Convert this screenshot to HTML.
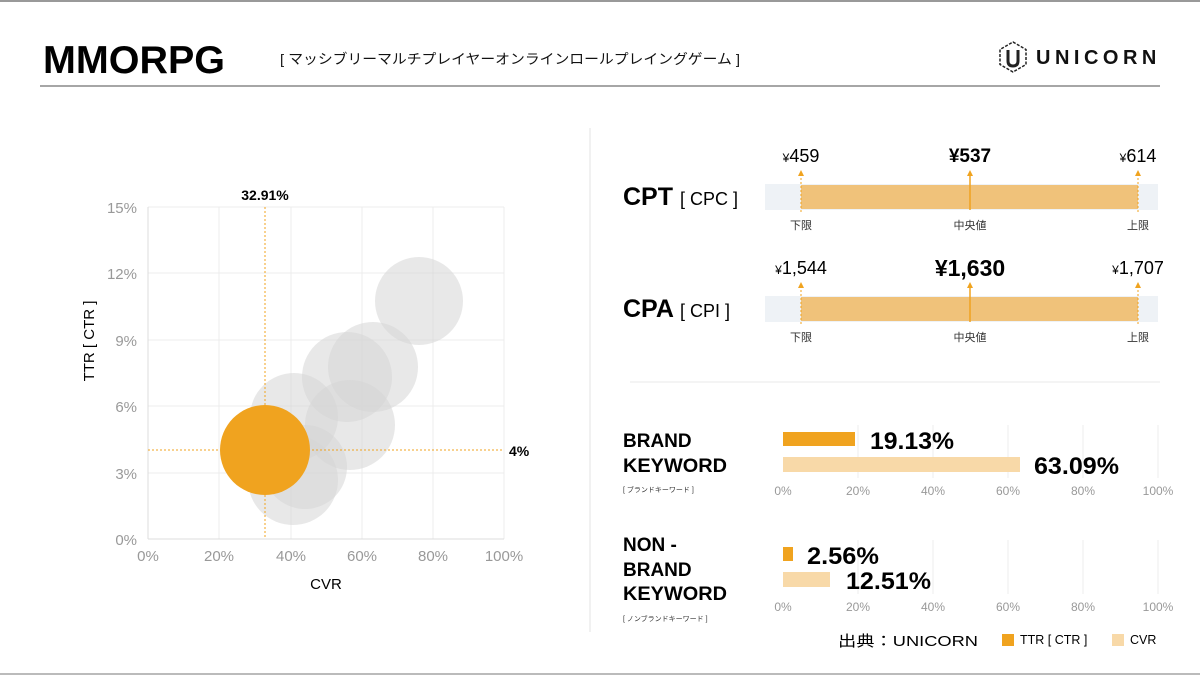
<!DOCTYPE html>
<html><head><meta charset="utf-8"><style>
body{margin:0;width:1200px;height:675px;background:#fff;overflow:hidden;font-family:"Liberation Sans","Noto Sans CJK JP",sans-serif;}
</style></head><body>
<svg width="1200" height="675" xmlns="http://www.w3.org/2000/svg" font-family="Liberation Sans, Noto Sans CJK JP, sans-serif">
<rect x="0" y="0" width="1200" height="2" fill="#999"/>
<rect x="0" y="673" width="1200" height="2" fill="#bbb"/>
<text x="43" y="73" font-size="39" font-weight="bold" fill="#000" textLength="182" lengthAdjust="spacingAndGlyphs">MMORPG</text>
<text x="280" y="64" font-size="14" fill="#111" textLength="460" lengthAdjust="spacingAndGlyphs">[ マッシブリーマルチプレイヤーオンラインロールプレイングゲーム ]</text>
<line x1="40" y1="86" x2="1160" y2="86" stroke="#888" stroke-width="1.5"/>
<g transform="translate(1013,57)" fill="none" stroke="#222" stroke-width="1.5">
<polygon points="0,-15 13,-7.5 13,7.5 0,15 -13,7.5 -13,-7.5" stroke-dasharray="3,1.5"/>
<path d="M-5,-7 V4 Q-5,9 0,9 Q5,9 5,4 V-7" stroke-width="3"/>
</g>
<text x="1036" y="64" font-size="20" font-weight="bold" letter-spacing="4.5" fill="#111">UNICORN</text>
<line x1="590" y1="128" x2="590" y2="632" stroke="#e3e3e3"/>
<line x1="630" y1="382" x2="1160" y2="382" stroke="#e8e8e8"/>
<g stroke="#ececec" stroke-width="1">
<line x1="148" y1="207" x2="504" y2="207"/><line x1="148" y1="273" x2="504" y2="273"/><line x1="148" y1="340" x2="504" y2="340"/><line x1="148" y1="406" x2="504" y2="406"/><line x1="148" y1="473" x2="504" y2="473"/>
<line x1="219" y1="207" x2="219" y2="539"/><line x1="291" y1="207" x2="291" y2="539"/><line x1="362" y1="207" x2="362" y2="539"/><line x1="433" y1="207" x2="433" y2="539"/><line x1="504" y1="207" x2="504" y2="539"/>
</g>
<line x1="148" y1="539" x2="504" y2="539" stroke="#ddd"/><line x1="148" y1="207" x2="148" y2="539" stroke="#ddd"/>
<g fill="#d6d6d6" fill-opacity="0.55">
<circle cx="419" cy="301" r="44"/>
<circle cx="373" cy="367" r="45"/>
<circle cx="347" cy="377" r="45"/>
<circle cx="294" cy="417" r="44"/>
<circle cx="293" cy="480" r="45"/>
<circle cx="305" cy="467" r="42"/>
<circle cx="350" cy="425" r="45"/>
</g>
<circle cx="265" cy="450" r="45" fill="#f0a31f"/>
<line x1="265" y1="207" x2="265" y2="539" stroke="#f0a31f" stroke-dasharray="2,2"/>
<line x1="148" y1="450" x2="504" y2="450" stroke="#f0a31f" stroke-dasharray="2,2"/>
<text x="265" y="200" font-size="14" font-weight="bold" text-anchor="middle">32.91%</text>
<text x="509" y="456" font-size="14" font-weight="bold">4%</text>
<g font-size="15" fill="#999" text-anchor="end">
<text x="137" y="213">15%</text><text x="137" y="279">12%</text><text x="137" y="346">9%</text><text x="137" y="412">6%</text><text x="137" y="479">3%</text><text x="137" y="545">0%</text>
</g>
<g font-size="15" fill="#999" text-anchor="middle">
<text x="148" y="561">0%</text><text x="219" y="561">20%</text><text x="291" y="561">40%</text><text x="362" y="561">60%</text><text x="433" y="561">80%</text><text x="504" y="561">100%</text>
</g>
<text x="326" y="589" font-size="15" text-anchor="middle">CVR</text>
<text transform="translate(94,341) rotate(-90)" font-size="15" text-anchor="middle">TTR  [ CTR ]</text>
<text x="623" y="205" font-size="25" font-weight="bold">CPT <tspan font-size="18" font-weight="normal">[ CPC ]</tspan></text>
<rect x="765" y="184" width="393" height="26" fill="#eef2f6"/>
<rect x="801" y="185" width="337" height="24" fill="#f0c27a"/>
<g stroke="#f0a31f" stroke-width="1"><line x1="801" y1="174" x2="801" y2="214" stroke-dasharray="2,2"/><line x1="1138" y1="174" x2="1138" y2="214" stroke-dasharray="2,2"/><line x1="970" y1="174" x2="970" y2="210" stroke-width="1.5"/></g>
<g fill="#f0a31f"><polygon points="801,170 798,176 804,176"/><polygon points="970,170 967,176 973,176"/><polygon points="1138,170 1135,176 1141,176"/></g>
<text x="801" y="162" font-size="18" text-anchor="middle"><tspan font-size="12">¥</tspan>459</text>
<text x="970" y="162" font-size="19" font-weight="bold" text-anchor="middle">¥537</text>
<text x="1138" y="162" font-size="18" text-anchor="middle"><tspan font-size="12">¥</tspan>614</text>
<g font-size="11" fill="#333" text-anchor="middle"><text x="801" y="229">下限</text><text x="970" y="229">中央値</text><text x="1138" y="229">上限</text></g>
<text x="623" y="317" font-size="25" font-weight="bold">CPA <tspan font-size="18" font-weight="normal">[ CPI ]</tspan></text>
<rect x="765" y="296" width="393" height="26" fill="#eef2f6"/>
<rect x="801" y="297" width="337" height="24" fill="#f0c27a"/>
<g stroke="#f0a31f" stroke-width="1"><line x1="801" y1="286" x2="801" y2="326" stroke-dasharray="2,2"/><line x1="1138" y1="286" x2="1138" y2="326" stroke-dasharray="2,2"/><line x1="970" y1="286" x2="970" y2="322" stroke-width="1.5"/></g>
<g fill="#f0a31f"><polygon points="801,282 798,288 804,288"/><polygon points="970,282 967,288 973,288"/><polygon points="1138,282 1135,288 1141,288"/></g>
<text x="801" y="274" font-size="18" text-anchor="middle"><tspan font-size="12">¥</tspan>1,544</text>
<text x="970" y="276" font-size="23" font-weight="bold" text-anchor="middle">¥1,630</text>
<text x="1138" y="274" font-size="18" text-anchor="middle"><tspan font-size="12">¥</tspan>1,707</text>
<g font-size="11" fill="#333" text-anchor="middle"><text x="801" y="341">下限</text><text x="970" y="341">中央値</text><text x="1138" y="341">上限</text></g>
<g font-size="19" font-weight="bold"><text x="623" y="447">BRAND</text><text x="623" y="472" textLength="104" lengthAdjust="spacingAndGlyphs">KEYWORD</text></g>
<text x="623" y="492" font-size="7" fill="#333">[ ブランドキーワード ]</text>
<g stroke="#ececec"><line x1="858" y1="425" x2="858" y2="478"/><line x1="933" y1="425" x2="933" y2="478"/><line x1="1008" y1="425" x2="1008" y2="478"/><line x1="1083" y1="425" x2="1083" y2="478"/><line x1="1158" y1="425" x2="1158" y2="478"/></g>
<rect x="783" y="432" width="72" height="14" fill="#f0a31f"/>
<rect x="783" y="457" width="237" height="15" fill="#f8d9a8"/>
<text x="870" y="449" font-size="24" font-weight="bold" textLength="84" lengthAdjust="spacingAndGlyphs">19.13%</text>
<text x="1034" y="474" font-size="24" font-weight="bold" textLength="85" lengthAdjust="spacingAndGlyphs">63.09%</text>
<g font-size="12" fill="#999" text-anchor="middle"><text x="783" y="495">0%</text><text x="858" y="495">20%</text><text x="933" y="495">40%</text><text x="1008" y="495">60%</text><text x="1083" y="495">80%</text><text x="1158" y="495">100%</text></g>
<g font-size="19" font-weight="bold"><text x="623" y="551">NON -</text><text x="623" y="576">BRAND</text><text x="623" y="600" textLength="104" lengthAdjust="spacingAndGlyphs">KEYWORD</text></g>
<text x="623" y="621" font-size="7" fill="#333">[ ノンブランドキーワード ]</text>
<g stroke="#ececec"><line x1="858" y1="540" x2="858" y2="594"/><line x1="933" y1="540" x2="933" y2="594"/><line x1="1008" y1="540" x2="1008" y2="594"/><line x1="1083" y1="540" x2="1083" y2="594"/><line x1="1158" y1="540" x2="1158" y2="594"/></g>
<rect x="783" y="547" width="10" height="14" fill="#f0a31f"/>
<rect x="783" y="572" width="47" height="15" fill="#f8d9a8"/>
<text x="807" y="564" font-size="24" font-weight="bold" textLength="72" lengthAdjust="spacingAndGlyphs">2.56%</text>
<text x="846" y="589" font-size="24" font-weight="bold" textLength="85" lengthAdjust="spacingAndGlyphs">12.51%</text>
<g font-size="12" fill="#999" text-anchor="middle"><text x="783" y="611">0%</text><text x="858" y="611">20%</text><text x="933" y="611">40%</text><text x="1008" y="611">60%</text><text x="1083" y="611">80%</text><text x="1158" y="611">100%</text></g>
<text x="838" y="646" font-size="15" textLength="140" lengthAdjust="spacingAndGlyphs">出典：UNICORN</text>
<rect x="1002" y="634" width="12" height="12" fill="#f0a31f"/>
<text x="1020" y="644" font-size="12.5">TTR [ CTR ]</text>
<rect x="1112" y="634" width="12" height="12" fill="#f8d9a8"/>
<text x="1130" y="644" font-size="12.5">CVR</text>
</svg>
</body></html>
